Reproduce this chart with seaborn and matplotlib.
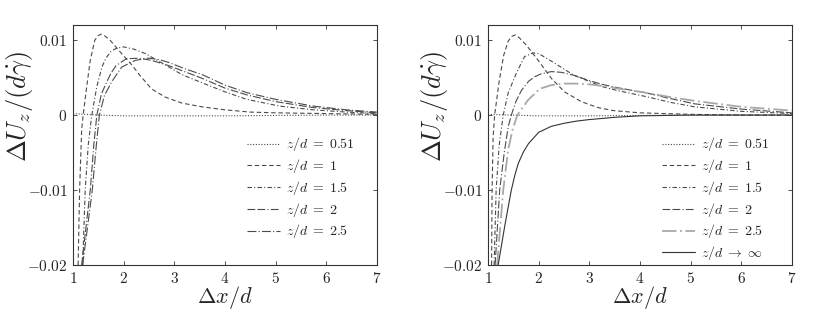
import matplotlib
matplotlib.use("Agg")
import matplotlib.pyplot as plt
import seaborn as sns

# ---- data ----
z_labels = [r'$z/d\;=\;0.51$', r'$z/d\;=\;1$', r'$z/d\;=\;1.5$', r'$z/d\;=\;2$', r'$z/d\;=\;2.5$']
inf_label = r'$z/d\;\rightarrow\;\infty$'

y_ticks = [-0.02, -0.01, 0, 0.01]
y_tick_labels = [r'$-0.02$', r'$-0.01$', r'$0$', r'$0.01$']
x_ticks = [1, 2, 3, 4, 5, 6, 7]
x_tick_labels = [r'$1$', r'$2$', r'$3$', r'$4$', r'$5$', r'$6$', r'$7$']

# left panel
left_x_051 = [1.0, 1.5, 2.0, 3.0, 4.0, 5.0, 6.0, 7.0]
left_y_051 = [0.0002, 0.0, -0.0001, -0.0001, -0.0001, -0.00005, 0.0, 0.0]

left_x_1 = [1.10, 1.13, 1.17, 1.20, 1.27, 1.34, 1.43, 1.50, 1.55, 1.62, 1.73, 1.96, 2.16,
            2.32, 2.55, 2.82, 3.15, 3.55, 4.0, 4.5, 5.0, 6.0, 7.0]
left_y_1 = [-0.020, -0.010, -0.002, 0.000, 0.0038, 0.0073, 0.0100, 0.0106, 0.0108, 0.0106,
            0.0100, 0.0082, 0.0067, 0.0053, 0.0035, 0.0024, 0.0016, 0.0011, 0.0007, 0.0004,
            0.0003, 0.0002, 0.0001]

left_x_15 = [1.19, 1.24, 1.30, 1.37, 1.47, 1.57, 1.65, 1.75, 1.85, 2.0, 2.2, 2.43, 2.82,
             3.15, 3.55, 4.0, 4.43, 5.08, 5.74, 6.4, 7.0]
left_y_15 = [-0.020, -0.010, -0.004, 0.000, 0.0038, 0.0064, 0.0076, 0.0085, 0.0089, 0.0091,
             0.0088, 0.0082, 0.0067, 0.0054, 0.0043, 0.0031, 0.0021, 0.0012, 0.0007, 0.0004,
             0.0002]

left_x_2 = [1.17, 1.34, 1.41, 1.47, 1.56, 1.65, 1.75, 1.85, 2.05, 2.3, 2.55, 2.89, 3.2,
            3.55, 4.0, 4.43, 5.0, 5.74, 6.4, 7.0]
left_y_2 = [-0.020, -0.010, -0.004, 0.000, 0.0028, 0.0042, 0.0056, 0.0066, 0.0075, 0.0076,
            0.0073, 0.0066, 0.0058, 0.0049, 0.0036, 0.0027, 0.0018, 0.0010, 0.0006, 0.0003]

left_x_25 = [1.19, 1.38, 1.46, 1.52, 1.62, 1.76, 1.96, 2.23, 2.49, 2.7, 2.9, 3.2, 3.55,
             4.0, 4.43, 5.0, 5.74, 6.4, 7.0]
left_y_25 = [-0.020, -0.010, -0.004, 0.000, 0.0026, 0.0044, 0.0064, 0.0073, 0.0076, 0.0074,
             0.0070, 0.0062, 0.0054, 0.0040, 0.0030, 0.0021, 0.0012, 0.0007, 0.0004]

# right panel
right_x_051 = [1.0, 1.5, 2.0, 3.0, 4.0, 5.0, 6.0, 7.0]
right_y_051 = [0.0001, 0.0, -0.0001, -0.0001, -0.00005, 0.0, 0.0, 0.0]

right_x_1 = [1.07, 1.08, 1.10, 1.13, 1.22, 1.31, 1.40, 1.47, 1.54, 1.62, 1.76, 1.99, 2.25,
             2.51, 2.84, 3.17, 3.47, 4.0, 4.5, 5.0, 6.0, 7.0]
right_y_1 = [-0.020, -0.010, -0.003, 0.000, 0.0045, 0.0080, 0.0099, 0.0105, 0.0107, 0.0103,
             0.0093, 0.0073, 0.0049, 0.0031, 0.0018, 0.0010, 0.0006, 0.0003, 0.0002, 0.0001,
             0.0, 0.0]

right_x_15 = [1.12, 1.16, 1.22, 1.30, 1.40, 1.56, 1.72, 1.89, 2.0, 2.25, 2.7, 3.25, 3.6,
              4.1, 4.6, 5.08, 6.0, 7.0]
right_y_15 = [-0.020, -0.010, -0.004, 0.000, 0.0030, 0.0056, 0.0078, 0.0083, 0.0082, 0.0072,
              0.0053, 0.0038, 0.0032, 0.0025, 0.0017, 0.0011, 0.0005, 0.0002]

right_x_2 = [1.14, 1.23, 1.32, 1.40, 1.46, 1.55, 1.66, 1.80, 1.92, 2.05, 2.25, 2.45, 2.7,
             3.0, 3.25, 3.6, 4.1, 4.6, 5.08, 6.0, 7.0]
right_y_2 = [-0.020, -0.010, -0.005, -0.0015, 0.000, 0.0018, 0.0033, 0.0045, 0.0051, 0.0055,
             0.0058, 0.0057, 0.0053, 0.0046, 0.0041, 0.0036, 0.0030, 0.0022, 0.0015, 0.0008,
             0.0003]

right_x_25 = [1.18, 1.30, 1.40, 1.49, 1.58, 1.66, 1.79, 2.02, 2.25, 2.5, 2.75, 3.0, 3.25,
              3.6, 4.1, 4.6, 5.08, 6.0, 7.0]
right_y_25 = [-0.020, -0.010, -0.0045, -0.0018, 0.000, 0.0008, 0.0020, 0.0035, 0.0040,
              0.0042, 0.0042, 0.0041, 0.0039, 0.0035, 0.0030, 0.0024, 0.0019, 0.0011, 0.0006]

right_x_inf = [1.20, 1.27, 1.33, 1.40, 1.46, 1.53, 1.60, 1.70, 1.80, 2.0, 2.25, 2.5, 2.75,
               3.0, 3.5, 4.0, 5.0, 6.0, 7.0]
right_y_inf = [-0.020, -0.0172, -0.0148, -0.0122, -0.0100, -0.0080, -0.0064, -0.0049,
               -0.0038, -0.0023, -0.0015, -0.0011, -0.0008, -0.0006, -0.0003, -0.0001,
               0.0, 0.0, 0.0]

# ---- style ----
sns.set_theme(style="ticks")
plt.rcParams['mathtext.fontset'] = 'cm'
plt.rcParams['font.family'] = ['DejaVu Serif']

line_styles = [
    (0, (1, 1.5)),            # dotted
    (0, (4, 2.5)),            # dashed
    (0, (4, 2, 1, 2)),        # dash-dot
    (0, (7, 2, 7, 2, 1, 2)),  # long dash, long dash, dot
    (0, (8, 2, 1, 2)),        # long dash-dot
]
line_color = '#4a4a4a'


def style_axes(ax):
    ax.set_xlim(1, 7)
    ax.set_ylim(-0.02, 0.012)
    ax.set_xticks(x_ticks)
    ax.set_xticklabels(x_tick_labels, fontsize=11)
    ax.set_yticks(y_ticks)
    ax.set_yticklabels(y_tick_labels, fontsize=11)
    ax.tick_params(direction='in', length=3, width=0.6, top=True, right=True,
                   color='#333333', pad=4)
    for s in ax.spines.values():
        s.set_linewidth(0.8)
        s.set_color('#333333')
    ax.set_xlabel(r'$\Delta x/d$', fontsize=16, labelpad=-1)
    ax.set_ylabel(r'$\Delta U_z/(d\dot{\gamma})$', fontsize=19)
    ax.yaxis.set_label_coords(-0.125, 0.66)


fig = plt.figure(figsize=(8.3, 3.14), dpi=100)
ax1 = fig.add_axes([0.088, 0.156, 0.366, 0.764])
ax2 = fig.add_axes([0.588, 0.156, 0.366, 0.764])

left_series = [(left_x_051, left_y_051), (left_x_1, left_y_1), (left_x_15, left_y_15),
               (left_x_2, left_y_2), (left_x_25, left_y_25)]
for (xs, ys), ls in zip(left_series, line_styles):
    sns.lineplot(x=xs, y=ys, ax=ax1, color=line_color, linestyle=ls, linewidth=0.8)

right_series = [(right_x_051, right_y_051), (right_x_1, right_y_1), (right_x_15, right_y_15),
                (right_x_2, right_y_2), (right_x_25, right_y_25)]
for i, ((xs, ys), ls) in enumerate(zip(right_series, line_styles)):
    if i == 4:
        sns.lineplot(x=xs, y=ys, ax=ax2, color='#a8a8a8', linestyle=ls, linewidth=1.3)
    else:
        sns.lineplot(x=xs, y=ys, ax=ax2, color=line_color, linestyle=ls, linewidth=0.8)
sns.lineplot(x=right_x_inf, y=right_y_inf, ax=ax2, color='#333333', linestyle='-', linewidth=0.8)

for ax in (ax1, ax2):
    style_axes(ax)

leg_kw = dict(loc='upper left', frameon=False, fontsize=10, handlelength=2.4,
              handletextpad=0.4, labelspacing=0.27, borderpad=0, borderaxespad=0)
ax1.legend(handles=ax1.lines, labels=z_labels, bbox_to_anchor=(0.572, 0.54), **leg_kw)
ax2.legend(handles=ax2.lines, labels=z_labels + [inf_label],
           bbox_to_anchor=(0.572, 0.54), **leg_kw)

plt.savefig('out.png', dpi=100)
